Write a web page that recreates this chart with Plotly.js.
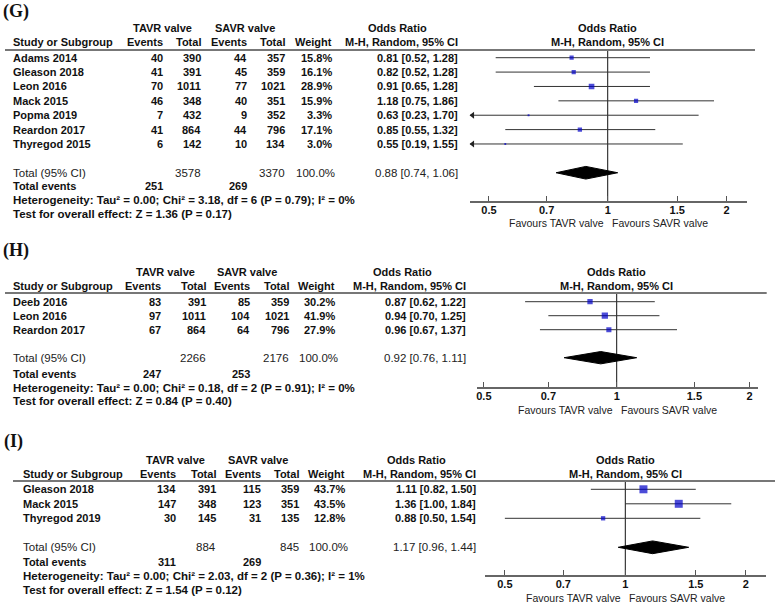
<!DOCTYPE html>
<html><head><meta charset="utf-8">
<script src="https://cdn.plot.ly/plotly-3.0.1.min.js"></script>
<style>html,body{margin:0;padding:0;background:#fff;}#chart{width:778px;height:603px;}</style>
</head><body><div id="chart"></div>
<script>
// ---------- DATA ----------
const tickVals = [0.5, 0.7, 1, 1.5, 2];
const tickText = ["0.5", "0.7", "1", "1.5", "2"];

// Panel G
const studiesG = ["Adams 2014", "Gleason 2018", "Leon 2016", "Mack 2015", "Popma 2019", "Reardon 2017", "Thyregod 2015"];
const tavrEventsG = [40, 41, 70, 46, 7, 41, 6];
const tavrTotalG = [390, 391, 1011, 348, 432, 864, 142];
const savrEventsG = [44, 45, 77, 40, 9, 44, 10];
const savrTotalG = [357, 359, 1021, 351, 352, 796, 134];
const weightG = [15.8, 16.1, 28.9, 15.9, 3.3, 17.1, 3.0];
const orG = [0.81, 0.82, 0.91, 1.18, 0.63, 0.85, 0.55];
const loG = [0.52, 0.52, 0.65, 0.75, 0.23, 0.55, 0.19];
const hiG = [1.28, 1.28, 1.28, 1.86, 1.70, 1.32, 1.55];
const totalsG = [3578, 3370];
const pooledG = [0.88, 0.74, 1.06];
const eventsG = [251, 269];
const hetG = "Heterogeneity: Tau² = 0.00; Chi² = 3.18, df = 6 (P = 0.79); I² = 0%";
const testG = "Test for overall effect: Z = 1.36 (P = 0.17)";

// Panel H
const studiesH = ["Deeb 2016", "Leon 2016", "Reardon 2017"];
const tavrEventsH = [83, 97, 67];
const tavrTotalH = [391, 1011, 864];
const savrEventsH = [85, 104, 64];
const savrTotalH = [359, 1021, 796];
const weightH = [30.2, 41.9, 27.9];
const orH = [0.87, 0.94, 0.96];
const loH = [0.62, 0.70, 0.67];
const hiH = [1.22, 1.25, 1.37];
const totalsH = [2266, 2176];
const pooledH = [0.92, 0.76, 1.11];
const eventsH = [247, 253];
const hetH = "Heterogeneity: Tau² = 0.00; Chi² = 0.18, df = 2 (P = 0.91); I² = 0%";
const testH = "Test for overall effect: Z = 0.84 (P = 0.40)";

// Panel I
const studiesI = ["Gleason 2018", "Mack 2015", "Thyregod 2019"];
const tavrEventsI = [134, 147, 30];
const tavrTotalI = [391, 348, 145];
const savrEventsI = [115, 123, 31];
const savrTotalI = [359, 351, 135];
const weightI = [43.7, 43.5, 12.8];
const orI = [1.11, 1.36, 0.88];
const loI = [0.82, 1.00, 0.50];
const hiI = [1.50, 1.84, 1.54];
const totalsI = [884, 845];
const pooledI = [1.17, 0.96, 1.44];
const eventsI = [311, 269];
const hetI = "Heterogeneity: Tau² = 0.00; Chi² = 2.03, df = 2 (P = 0.36); I² = 1%";
const testI = "Test for overall effect: Z = 1.54 (P = 0.12)";

// ---------- LAYOUT SPECS (positions in px) ----------
const W = 778, H = 603;
const FONT = "Liberation Sans, Arial, sans-serif";
const px = x => x / W;
const py = y => 1 - y / H;

const panels = [
  { label: "(G)", d: {studies: studiesG, tE: tavrEventsG, tT: tavrTotalG, sE: savrEventsG, sT: savrTotalG, w: weightG, or: orG, lo: loG, hi: hiG, totals: totalsG, pooled: pooledG, events: eventsG, het: hetG, test: testG},
    s: {labelX: 2, labelY: 11, hdr1Y: 28, hdr2Y: 42, lineY: 50, lineX0: 5, lineX1: 755, nameX: 11.5, colR: [164, 202, 248, 286, 333, 459], grpC: [162.5, 244.5, 397], rowY0: 57.7, rowDy: 14.38, evY: 186, hetY: 200, testY: 214, plotX0: 470, plotX1: 746.7, plotBot: 201, xLo: 0.4476, xHi: 2.251, favY: 223, sqK: 1.05} },
  { label: "(H)", d: {studies: studiesH, tE: tavrEventsH, tT: tavrTotalH, sE: savrEventsH, sT: savrTotalH, w: weightH, or: orH, lo: loH, hi: hiH, totals: totalsH, pooled: pooledH, events: eventsH, het: hetH, test: testH},
    s: {labelX: 2, labelY: 250, hdr1Y: 272, hdr2Y: 286, lineY: 293, lineX0: 5, lineX1: 766.7, nameX: 12.3, colR: [162.3, 206.7, 251, 290, 336, 466.7], grpC: [165.8, 247.2, 403], rowY0: 301.7, rowDy: 14, evY: 374, hetY: 388, testY: 401, plotX0: 476.7, plotX1: 758.3, plotBot: 387, xLo: 0.4816, xHi: 2.094, favY: 410, sqK: 0.97} },
  { label: "(I)", d: {studies: studiesI, tE: tavrEventsI, tT: tavrTotalI, sE: savrEventsI, sT: savrTotalI, w: weightI, or: orI, lo: loI, hi: hiI, totals: totalsI, pooled: pooledI, events: eventsI, het: hetI, test: testI},
    s: {labelX: 3, labelY: 441.7, hdr1Y: 460, hdr2Y: 474, lineY: 481, lineX0: 13, lineX1: 775, nameX: 21.7, colR: [176.5, 216.5, 261.5, 300, 346, 476.7], grpC: [175, 258.3, 416.7], rowY0: 489.3, rowDy: 14.5, evY: 562.3, hetY: 576, testY: 590, plotX0: 485, plotX1: 766, plotBot: 575, xLo: 0.446, xHi: 2.247, favY: 598, sqK: 1.21} }
];

const traces = [], annotations = [], shapes = [];
const layout = {
  width: W, height: H, margin: {l: 0, r: 0, t: 0, b: 0},
  paper_bgcolor: "#fff", plot_bgcolor: "rgba(0,0,0,0)",
  showlegend: false, hovermode: false,
  annotations, shapes
};

function txt(x, y, text, anchor, o) {
  o = o || {};
  annotations.push({
    xref: o.xref || "paper", yref: "paper",
    x: o.xref ? x : px(x), y: py(y), text: text,
    xanchor: anchor, yanchor: "middle", showarrow: false,
    xshift: o.xshift || 0, borderpad: 0,
    font: {family: o.family || FONT, size: o.size || 11, color: o.color || "#111", weight: o.weight || "bold"}
  });
}
const f2 = v => v.toFixed(2);

panels.forEach((p, i) => {
  const ax = i === 0 ? "" : String(i + 1);
  const xa = "x" + ax, ya = "y" + ax;
  const d = p.d, s = p.s;
  const n = d.studies.length;
  const idx = d.studies.map((_, k) => k);
  const totIdx = n + 1;
  const rowY = k => s.rowY0 + k * s.rowDy;
  const yTop = (s.lineY - s.rowY0) / s.rowDy;
  const yBot = (s.plotBot - s.rowY0) / s.rowDy;

  layout["xaxis" + ax] = {
    type: "log", domain: [px(s.plotX0), px(s.plotX1)],
    range: [Math.log10(s.xLo), Math.log10(s.xHi)], anchor: ya,
    tickmode: "array", tickvals: tickVals, ticktext: tickText,
    ticks: "inside", ticklen: 5, tickwidth: 1, tickcolor: "#555",
    ticklabelstandoff: -2,
    showline: true, linecolor: "#666", linewidth: 1.5,
    showgrid: false, zeroline: false, fixedrange: true,
    tickfont: {family: FONT, size: 11, weight: "bold", color: "#111"}
  };
  layout["yaxis" + ax] = {
    domain: [py(s.plotBot), py(s.lineY)], range: [yBot, yTop], anchor: xa,
    visible: false, showgrid: false, zeroline: false, fixedrange: true
  };

  // vertical line of no effect
  traces.push({type: "scatter", mode: "lines", xaxis: xa, yaxis: ya,
    x: [1, 1], y: [yTop, yBot], line: {color: "#111", width: 1}, cliponaxis: false});

  // CI lines
  const cx = [], cy = [];
  idx.forEach(k => { cx.push(d.lo[k], d.hi[k], null); cy.push(k, k, null); });
  traces.push({type: "scatter", mode: "lines", xaxis: xa, yaxis: ya, x: cx, y: cy,
    line: {color: "#333", width: 1}});

  // arrows for CIs beyond the axis
  const arrK = idx.filter(k => d.lo[k] < s.xLo);
  if (arrK.length) {
    traces.push({type: "scatter", mode: "markers", xaxis: xa, yaxis: ya, cliponaxis: false,
      x: arrK.map(() => s.xLo * 1.015), y: arrK,
      marker: {symbol: "triangle-left", size: 6, color: "#222"}});
  }

  // squares
  traces.push({type: "scatter", mode: "markers", xaxis: xa, yaxis: ya,
    x: d.or, y: idx,
    marker: {symbol: "square", color: "#0000c8", size: d.w.map(w => s.sqK * Math.sqrt(w)), line: {width: 0}}});

  // diamond
  const h = 0.44;
  traces.push({type: "scatter", mode: "lines", xaxis: xa, yaxis: ya, fill: "toself",
    fillcolor: "#000", line: {color: "#000", width: 1},
    x: [d.pooled[1], d.pooled[0], d.pooled[2], d.pooled[0], d.pooled[1]],
    y: [totIdx, totIdx - h, totIdx, totIdx + h, totIdx]});

  // header line
  shapes.push({type: "line", xref: "paper", yref: "paper", x0: px(s.lineX0), x1: px(s.lineX1),
    y0: py(s.lineY), y1: py(s.lineY), line: {color: "#777", width: 2}});

  // panel label
  txt(s.labelX, s.labelY, p.label, "left", {family: "Liberation Serif, Times New Roman, serif", size: 18});

  // headers
  txt(s.grpC[0], s.hdr1Y, "TAVR valve", "center");
  txt(s.grpC[1], s.hdr1Y, "SAVR valve", "center");
  txt(s.grpC[2], s.hdr1Y, "Odds Ratio", "center");
  txt(s.nameX, s.hdr2Y, "Study or Subgroup", "left");
  ["Events", "Total", "Events", "Total", "Weight", "M-H, Random, 95% CI"].forEach((t, c) => txt(s.colR[c], s.hdr2Y, t, "right"));
  txt(0, s.hdr1Y, "Odds Ratio", "center", {xref: xa});
  txt(0, s.hdr2Y, "M-H, Random, 95% CI", "center", {xref: xa});

  // study rows
  idx.forEach(k => {
    const y = rowY(k);
    txt(s.nameX, y, d.studies[k], "left");
    txt(s.colR[0], y, String(d.tE[k]), "right");
    txt(s.colR[1], y, String(d.tT[k]), "right");
    txt(s.colR[2], y, String(d.sE[k]), "right");
    txt(s.colR[3], y, String(d.sT[k]), "right");
    txt(s.colR[4], y, d.w[k].toFixed(1) + "%", "right");
    txt(s.colR[5], y, `${f2(d.or[k])} [${f2(d.lo[k])}, ${f2(d.hi[k])}]`, "right");
  });

  // total row
  const ty = rowY(totIdx);
  const lite = {weight: "normal", size: 11.5, color: "#222"};
  txt(s.nameX, ty, "Total (95% CI)", "left", lite);
  txt(s.colR[1], ty, String(d.totals[0]), "right", lite);
  txt(s.colR[3], ty, String(d.totals[1]), "right", lite);
  txt(s.colR[4] + 3, ty, "100.0%", "right", lite);
  txt(s.colR[5], ty, `${f2(d.pooled[0])} [${f2(d.pooled[1])}, ${f2(d.pooled[2])}]`, "right", lite);

  // events + stats
  txt(s.nameX, s.evY, "Total events", "left");
  txt(s.colR[0], s.evY, String(d.events[0]), "right");
  txt(s.colR[2], s.evY, String(d.events[1]), "right");
  txt(s.nameX, s.hetY, d.het, "left", {size: 11.5});
  txt(s.nameX, s.testY, d.test, "left", {size: 11.5});

  // favours
  txt(0, s.favY, "Favours TAVR valve", "right", {xref: xa, xshift: -3, weight: "normal", size: 10.5, color: "#222"});
  txt(0, s.favY, "Favours SAVR valve", "left", {xref: xa, xshift: 3, weight: "normal", size: 10.5, color: "#222"});
});

Plotly.newPlot("chart", traces, layout, {displayModeBar: false, staticPlot: true});
</script>
</body></html>
